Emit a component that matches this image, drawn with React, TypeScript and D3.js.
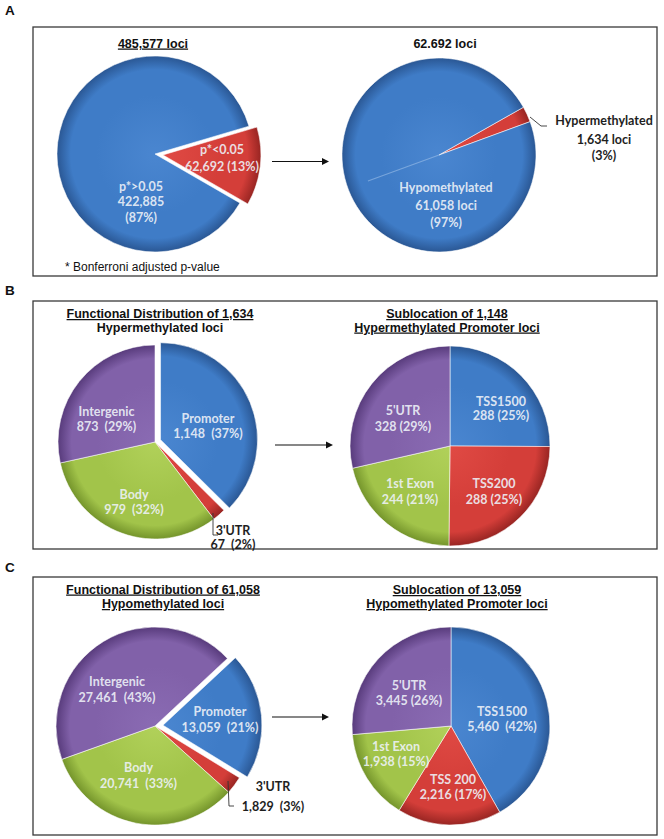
import React from "react";
import * as d3 from "d3";

// ---------------- data ----------------
const aLeftCategories = ["p*<0.05", "p*>0.05"];
const aLeftValues = [62692, 422885];
const aLeftPercents = ["13%", "87%"];

const aRightCategories = ["Hypermethylated", "Hypomethylated"];
const aRightValues = [1634, 61058];
const aRightPercents = ["3%", "97%"];

const funcCategories = ["Promoter", "3'UTR", "Body", "Intergenic"];
const hyperFuncValues = [1148, 67, 979, 873];
const hyperFuncPercents = ["37%", "2%", "32%", "29%"];
const hypoFuncValues = [13059, 1829, 20741, 27461];
const hypoFuncPercents = ["21%", "3%", "33%", "43%"];

const hyperSubCategories = ["TSS1500", "TSS200", "1st Exon", "5'UTR"];
const hyperSubValues = [288, 288, 244, 328];
const hyperSubPercents = ["25%", "25%", "21%", "29%"];

const hypoSubCategories = ["TSS1500", "TSS 200", "1st Exon", "5'UTR"];
const hypoSubValues = [5460, 2216, 1938, 3445];
const hypoSubPercents = ["42%", "17%", "15%", "26%"];

const panelLetters = ["A", "B", "C"];
const aLeftTitle = ["485,577 loci"];
const aRightTitle = ["62.692 loci"];
const bLeftTitle = ["Functional Distribution of 1,634", "Hypermethylated loci"];
const bRightTitle = ["Sublocation of 1,148", "Hypermethylated Promoter loci"];
const cLeftTitle = ["Functional Distribution of 61,058", "Hypomethylated loci"];
const cRightTitle = ["Sublocation of 13,059", "Hypomethylated Promoter loci"];
const footnote = "* Bonferroni adjusted p-value";

// ---------------- styling ----------------
const W = 664;
const H = 839;
const fmt = d3.format(",");

type ColorKey = "blue" | "red" | "green" | "purple";
const COLORS: Record<ColorKey, { light: string; base: string; dark: string }> = {
  blue: { light: "#4a86d0", base: "#3f7cc7", dark: "#2a5794" },
  red: { light: "#e04a44", base: "#d43e39", dark: "#982522" },
  green: { light: "#b1d15a", base: "#a2c44a", dark: "#74942b" },
  purple: { light: "#8a6bb3", base: "#8161a9", dark: "#583b7c" },
};

const TITLE_FONT = "'Liberation Sans', Arial, sans-serif";
const LABEL_FONT = "Lato, 'Open Sans', sans-serif";

type LabelSpec = {
  x: number;
  ys: number[];
  lines: string[];
  dark?: boolean;
  leader?: [number, number][];
};

type PieSpec = {
  id: string;
  cx: number;
  cy: number;
  r: number;
  startDeg: number;
  values: number[];
  colors: ColorKey[];
  explode?: { index: number; dist: number };
  labels: LabelSpec[];
  streak?: boolean;
};

const sp = "\u00A0";

const pies: PieSpec[] = [
  {
    id: "aL",
    cx: 155,
    cy: 154,
    r: 98,
    startDeg: 73.5,
    values: aLeftValues,
    colors: ["red", "blue"],
    explode: { index: 0, dist: 8 },
    labels: [
      { x: 67, ys: [-4, 13], lines: [aLeftCategories[0], `${fmt(aLeftValues[0])} (${aLeftPercents[0]})`] },
      { x: -14, ys: [33, 48, 64], lines: [aLeftCategories[1], fmt(aLeftValues[1]), `(${aLeftPercents[1]})`] },
    ],
  },
  {
    id: "aR",
    cx: 439,
    cy: 155,
    r: 97,
    startDeg: 60.5,
    values: aRightValues,
    colors: ["red", "blue"],
    streak: true,
    labels: [
      {
        x: 165,
        ys: [-34.5, -15, 1],
        lines: [aRightCategories[0], `${fmt(aRightValues[0])} loci`, `(${aRightPercents[0]})`],
        dark: true,
        leader: [[91, -38], [102, -29], [108, -29]],
      },
      { x: 7, ys: [33, 51, 68], lines: [aRightCategories[1], `${fmt(aRightValues[1])} loci`, `(${aRightPercents[1]})`] },
    ],
  },
  {
    id: "bL",
    cx: 155,
    cy: 442,
    r: 97,
    startDeg: 0,
    values: hyperFuncValues,
    colors: ["blue", "red", "green", "purple"],
    explode: { index: 0, dist: 6 },
    labels: [
      { x: 53, ys: [-23, -8], lines: [funcCategories[0], `${fmt(hyperFuncValues[0])}${sp}${sp}(${hyperFuncPercents[0]})`] },
      {
        x: 78,
        ys: [89, 103],
        lines: [funcCategories[1], `${fmt(hyperFuncValues[1])}${sp}${sp}(${hyperFuncPercents[1]})`],
        dark: true,
        leader: [[58, 71], [58, 93], [63, 93]],
      },
      { x: -21, ys: [53, 68], lines: [funcCategories[2], `${fmt(hyperFuncValues[2])}${sp}${sp}(${hyperFuncPercents[2]})`] },
      { x: -48.5, ys: [-30, -15], lines: [funcCategories[3], `${fmt(hyperFuncValues[3])}${sp}${sp}(${hyperFuncPercents[3]})`] },
    ],
  },
  {
    id: "bR",
    cx: 450,
    cy: 446,
    r: 100,
    startDeg: 0,
    values: hyperSubValues,
    colors: ["blue", "red", "green", "purple"],
    labels: [
      { x: 51, ys: [-44, -30], lines: [hyperSubCategories[0], `${fmt(hyperSubValues[0])} (${hyperSubPercents[0]})`] },
      { x: 44, ys: [38, 54], lines: [hyperSubCategories[1], `${fmt(hyperSubValues[1])} (${hyperSubPercents[1]})`] },
      { x: -40, ys: [38, 54], lines: [hyperSubCategories[2], `${fmt(hyperSubValues[2])} (${hyperSubPercents[2]})`] },
      { x: -47, ys: [-35, -19], lines: [hyperSubCategories[3], `${fmt(hyperSubValues[3])} (${hyperSubPercents[3]})`] },
    ],
  },
  {
    id: "cL",
    cx: 155,
    cy: 726,
    r: 99,
    startDeg: 47,
    values: hypoFuncValues,
    colors: ["blue", "red", "green", "purple"],
    explode: { index: 0, dist: 8 },
    labels: [
      { x: 65, ys: [-14, 2], lines: [funcCategories[0], `${fmt(hypoFuncValues[0])}${sp}${sp}(${hypoFuncPercents[0]})`] },
      {
        x: 118,
        ys: [61, 81],
        lines: [funcCategories[1], `${fmt(hypoFuncValues[1])}${sp}${sp}(${hypoFuncPercents[1]})`],
        dark: true,
        leader: [[73, 55], [74, 80], [79, 80]],
      },
      { x: -16.5, ys: [42, 58], lines: [funcCategories[2], `${fmt(hypoFuncValues[2])}${sp}${sp}(${hypoFuncPercents[2]})`] },
      { x: -38, ys: [-44, -28], lines: [funcCategories[3], `${fmt(hypoFuncValues[3])}${sp}${sp}(${hypoFuncPercents[3]})`] },
    ],
  },
  {
    id: "cR",
    cx: 451,
    cy: 726,
    r: 99,
    startDeg: 0,
    values: hypoSubValues,
    colors: ["blue", "red", "green", "purple"],
    labels: [
      { x: 51, ys: [-14, 1], lines: [hypoSubCategories[0], `${fmt(hypoSubValues[0])}${sp}${sp}(${hypoSubPercents[0]})`] },
      { x: 2, ys: [54, 69], lines: [hypoSubCategories[1], `${fmt(hypoSubValues[1])} (${hypoSubPercents[1]})`] },
      { x: -55, ys: [21, 36], lines: [hypoSubCategories[2], `${fmt(hypoSubValues[2])} (${hypoSubPercents[2]})`] },
      { x: -42, ys: [-40, -25], lines: [hypoSubCategories[3], `${fmt(hypoSubValues[3])} (${hypoSubPercents[3]})`] },
    ],
  },
];

type Panel = { letter: string; letterY: number; box: [number, number, number, number]; arrow: [number, number, number] };
const panels: Panel[] = [
  { letter: panelLetters[0], letterY: 15, box: [33, 27, 657, 276], arrow: [272, 329, 161.5] },
  { letter: panelLetters[1], letterY: 295, box: [33, 301, 657, 549], arrow: [275, 333, 445] },
  { letter: panelLetters[2], letterY: 572, box: [33, 577, 657, 835], arrow: [272, 329, 717] },
];

type TitleSpec = { x: number; ys: number[]; lines: string[]; underline: boolean[] };
const titles: TitleSpec[] = [
  { x: 153, ys: [47.5], lines: aLeftTitle, underline: [true] },
  { x: 445, ys: [47.5], lines: aRightTitle, underline: [false] },
  { x: 160, ys: [318, 331.5], lines: bLeftTitle, underline: [true, false] },
  { x: 447, ys: [318, 331.5], lines: bRightTitle, underline: [true, true] },
  { x: 163, ys: [593.5, 608], lines: cLeftTitle, underline: [true, true] },
  { x: 457, ys: [594, 608], lines: cRightTitle, underline: [true, true] },
];

function PieChart({ spec }: { spec: PieSpec }) {
  const { id, cx, cy, r, startDeg, values, colors, explode, labels, streak } = spec;
  const start = (startDeg * Math.PI) / 180;
  const pie = d3
    .pie<number>()
    .value((d) => d)
    .sort(null)
    .startAngle(start)
    .endAngle(start + 2 * Math.PI);
  const arcs = pie(values);
  const arcGen = d3.arc<d3.PieArcDatum<number>>().innerRadius(0).outerRadius(r);

  return (
    <g transform={`translate(${cx},${cy})`}>
      <defs>
        {colors.map((c, i) => (
          <radialGradient key={i} id={`${id}-g${i}`} gradientUnits="userSpaceOnUse" cx={0} cy={0} r={r}>
            <stop offset="0" stopColor={COLORS[c].light} />
            <stop offset="0.6" stopColor={COLORS[c].base} />
            <stop offset="0.86" stopColor={COLORS[c].base} />
            <stop offset="1" stopColor={COLORS[c].dark} />
          </radialGradient>
        ))}
      </defs>
      {arcs.map((a, i) => {
        const mid = (a.startAngle + a.endAngle) / 2;
        const d = explode && explode.index === i ? explode.dist : 0;
        const tx = Math.sin(mid) * d;
        const ty = -Math.cos(mid) * d;
        return (
          <path
            key={i}
            d={arcGen(a) || ""}
            transform={`translate(${tx},${ty})`}
            fill={`url(#${id}-g${i})`}
            stroke="#ffffff"
            strokeOpacity={0.55}
            strokeWidth={1}
          />
        );
      })}
      {streak && (() => {
        const a = arcs[0].endAngle + Math.PI;
        const len = r * 0.78;
        return (
          <line
            x1={0}
            y1={0}
            x2={Math.sin(a) * len}
            y2={-Math.cos(a) * len}
            stroke="#9cc0ea"
            strokeOpacity={0.6}
            strokeWidth={1.2}
          />
        );
      })()}
      {labels.map((l, i) => (
        <g key={`l${i}`}>
          {l.leader && (
            <polyline
              points={l.leader.map((p) => p.join(",")).join(" ")}
              fill="none"
              stroke="#333"
              strokeWidth={0.9}
            />
          )}
          {l.lines.map((t, j) => (
            <text
              key={j}
              x={l.x}
              y={l.ys[j] + 4.3}
              textAnchor="middle"
              fontFamily={LABEL_FONT}
              fontWeight={700}
              fontSize={12.5}
              fill={l.dark ? "#1e1e1e" : "#eef2f8"}
              fillOpacity={l.dark ? 1 : 0.9}
            >
              {t}
            </text>
          ))}
        </g>
      ))}
    </g>
  );
}

export default function App() {
  return (
    <div style={{ position: "absolute", left: 0, top: 0 }}>
      <svg width={W} height={H} viewBox={`0 0 ${W} ${H}`} style={{ display: "block", background: "#fff" }}>
        {panels.map((p, i) => (
          <g key={i}>
            <text x={5} y={p.letterY} fontFamily={TITLE_FONT} fontWeight={700} fontSize={13.5} fill="#111">
              {p.letter}
            </text>
            <rect
              x={p.box[0]}
              y={p.box[1]}
              width={p.box[2] - p.box[0]}
              height={p.box[3] - p.box[1]}
              fill="none"
              stroke="#3a3a3a"
              strokeWidth={1.3}
            />
            <line x1={p.arrow[0]} y1={p.arrow[2]} x2={p.arrow[1] - 6} y2={p.arrow[2]} stroke="#111" strokeWidth={1.2} />
            <polygon
              points={`${p.arrow[1]},${p.arrow[2]} ${p.arrow[1] - 7},${p.arrow[2] - 3.5} ${p.arrow[1] - 7},${p.arrow[2] + 3.5}`}
              fill="#111"
            />
          </g>
        ))}
        {titles.map((t, i) => (
          <g key={`t${i}`}>
            {t.lines.map((line, j) => (
              <text
                key={j}
                x={t.x}
                y={t.ys[j]}
                textAnchor="middle"
                fontFamily={TITLE_FONT}
                fontWeight={700}
                fontSize={12.5}
                fill="#111"
                style={{ textDecoration: t.underline[j] ? "underline" : "none" }}
              >
                {line}
              </text>
            ))}
          </g>
        ))}
        <text x={65} y={270.5} fontFamily={TITLE_FONT} fontSize={12} fill="#111">
          {footnote}
        </text>
        {pies.map((p) => (
          <PieChart key={p.id} spec={p} />
        ))}
      </svg>
    </div>
  );
}
